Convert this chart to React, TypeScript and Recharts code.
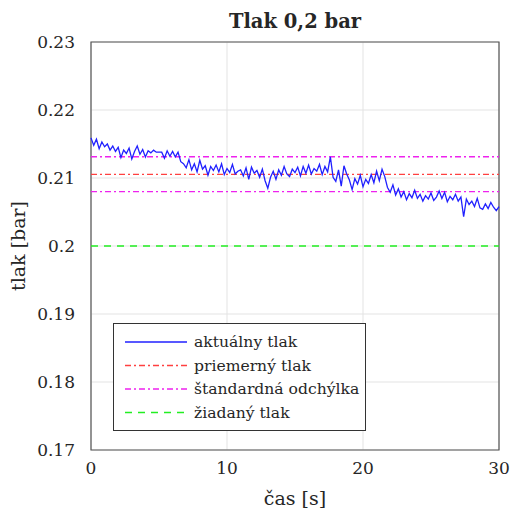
import React from "react";
import { LineChart, Line, XAxis, YAxis, CartesianGrid, ReferenceLine, ReferenceArea } from "recharts";

const timeStep = 0.2;
const pressureValues = [
  0.2159, 0.2148, 0.2157, 0.2143, 0.2153, 0.2146, 0.2150, 0.2141, 0.2147, 0.2139,
  0.2145, 0.2130, 0.2141, 0.2136, 0.2144, 0.2128, 0.2139, 0.2147, 0.2135, 0.2142,
  0.2131, 0.2140, 0.2137, 0.2141, 0.2138, 0.2138, 0.2138, 0.2129, 0.2140, 0.2132,
  0.2139, 0.2131, 0.2138, 0.2124, 0.2121, 0.2115, 0.2127, 0.2112, 0.2121, 0.2109,
  0.2126, 0.2113, 0.2118, 0.2104, 0.2117, 0.2111, 0.2119, 0.2109, 0.2121, 0.2105,
  0.2114, 0.2108, 0.2120, 0.2106, 0.2110, 0.2112, 0.2103, 0.2115, 0.2098, 0.2116,
  0.2107, 0.2111, 0.2101, 0.2113, 0.2096, 0.2085, 0.2101, 0.2110, 0.2098, 0.2112,
  0.2104, 0.2117, 0.2106, 0.2102, 0.2113, 0.2108, 0.2116, 0.2103, 0.2117, 0.2107,
  0.2119, 0.2106, 0.2114, 0.2110, 0.2120, 0.2105, 0.2117, 0.2109, 0.2131, 0.2101,
  0.2095, 0.2112, 0.2088, 0.2118, 0.2106, 0.2097, 0.2083, 0.2099, 0.2091, 0.2104,
  0.2087, 0.2098, 0.2092, 0.2105, 0.2093, 0.2110, 0.2096, 0.2113, 0.2102, 0.2086,
  0.2079, 0.2090, 0.2075, 0.2084, 0.2072, 0.2080, 0.2068, 0.2077, 0.2071, 0.2082,
  0.2070, 0.2076, 0.2066, 0.2074, 0.2069, 0.2078, 0.2067, 0.2072, 0.2081, 0.2070,
  0.2079, 0.2065, 0.2073, 0.2068, 0.2076, 0.2066, 0.2072, 0.2043, 0.2069, 0.2061,
  0.2066, 0.2058, 0.2070, 0.2056, 0.2054, 0.2062, 0.2055, 0.2064, 0.2057, 0.2052,
  0.2058,
];
const meanPressure = 0.21054;
const stdUpper = 0.21313;
const stdLower = 0.20799;
const targetPressure = 0.2;

const xTicks = [0, 10, 20, 30];
const yTicks = [0.17, 0.18, 0.19, 0.2, 0.21, 0.22, 0.23];

const title = "Tlak 0,2 bar";
const xLabel = "čas [s]";
const yLabel = "tlak [bar]";
const legendLabels = ["aktuálny tlak", "priemerný tlak", "štandardná odchýlka", "žiadaný tlak"];

const data = pressureValues.map((p, i) => ({ t: Math.round(i * timeStep * 10) / 10, p }));

const FONT = "'DejaVu Serif', serif";
const TEXT = "#262626";
const RED = "#ff4040";
const MAGENTA = "#ee22ee";
const GREEN = "#22ee22";
const BLUE = "#2020ff";
const DASHDOT = "6 3 2 3";

const legendStyles = [
  { color: BLUE, dash: undefined },
  { color: RED, dash: DASHDOT },
  { color: MAGENTA, dash: DASHDOT },
  { color: GREEN, dash: "7 6" },
];

const LegendBox = () => (
  <svg width={253} height={108} style={{ display: "block" }}>
    <rect x={0.5} y={0.5} width={252} height={107} fill="#fff" stroke="#333" strokeWidth={1} />
    {legendLabels.map((lab, i) => {
      const y = 19 + i * 23.5;
      return (
        <g key={lab}>
          <line x1={12} x2={74} y1={y} y2={y} stroke={legendStyles[i].color} strokeWidth={1.4} strokeDasharray={legendStyles[i].dash} />
          <text x={81} y={y} dy="0.35em" fontFamily={FONT} fontSize={15.6} fill={TEXT}>{lab}</text>
        </g>
      );
    })}
  </svg>
);

export default function App() {
  return (
    <div style={{ position: "absolute", left: 0, top: 0, width: 513, height: 517, background: "#fff" }}>
      <LineChart width={513} height={517} data={data} margin={{ top: 42, right: 14, bottom: 37, left: 0 }}>
        <text x={295} y={21} textAnchor="middle" dominantBaseline="central" fontFamily={FONT} fontSize={19.5} fontWeight={600} fill={TEXT}>{title}</text>
        <CartesianGrid stroke="#e3e3e3" strokeWidth={1} />
        <XAxis
          dataKey="t"
          type="number"
          domain={[0, 30]}
          ticks={xTicks}
          height={30}
          axisLine={false}
          tickLine={false}
          tick={{ fontFamily: FONT, fontSize: 17, fill: TEXT }}
          tickMargin={6}
          label={{ value: xLabel, position: "bottom", offset: 12, fontFamily: FONT, fontSize: 19, fill: TEXT }}
        />
        <YAxis
          type="number"
          domain={[0.17, 0.23]}
          ticks={yTicks}
          width={91}
          axisLine={false}
          tickLine={false}
          allowDataOverflow
          tickFormatter={(v: number) => String(Number(v.toFixed(2)))}
          tick={{ fontFamily: FONT, fontSize: 17, fill: TEXT }}
          tickMargin={10}
          label={{ value: yLabel, angle: -90, position: "insideLeft", offset: 18, fontFamily: FONT, fontSize: 19, fill: TEXT, style: { textAnchor: "middle" } }}
        />
        <ReferenceLine y={targetPressure} stroke={GREEN} strokeWidth={1.4} strokeDasharray="7 6" />
        <ReferenceLine y={stdUpper} stroke={MAGENTA} strokeWidth={1.4} strokeDasharray={DASHDOT} />
        <ReferenceLine y={stdLower} stroke={MAGENTA} strokeWidth={1.4} strokeDasharray={DASHDOT} />
        <ReferenceLine y={meanPressure} stroke={RED} strokeWidth={1.4} strokeDasharray={DASHDOT} />
        <Line type="linear" dataKey="p" stroke={BLUE} strokeWidth={1.3} dot={false} isAnimationActive={false} />
        <ReferenceArea x1={0} x2={30} y1={0.17} y2={0.23} fill="none" stroke="#555" strokeWidth={1.2} ifOverflow="visible" />
      </LineChart>
      <div style={{ position: "absolute", left: 113, top: 323, width: 253, height: 108 }}>
        <LegendBox />
      </div>
    </div>
  );
}
